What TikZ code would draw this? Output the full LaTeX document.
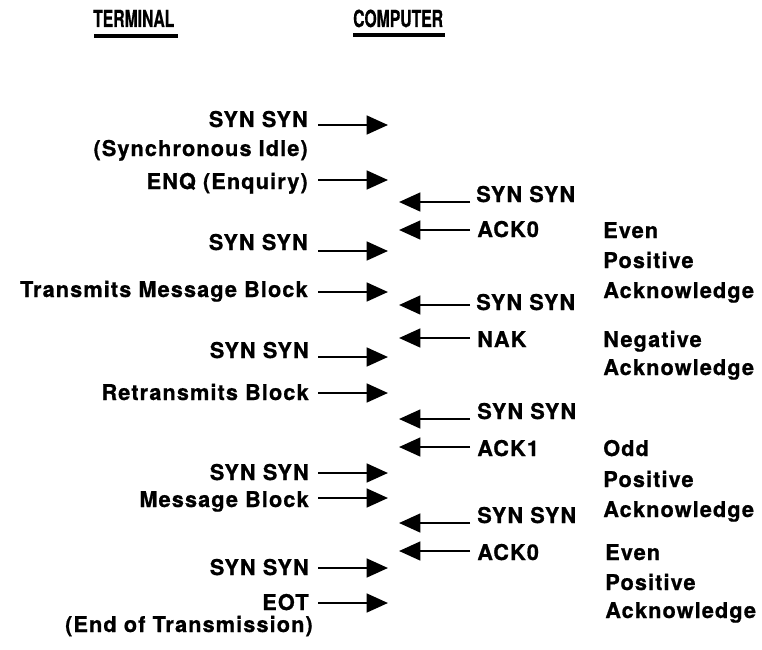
\documentclass[tikz,border=0pt]{standalone}
\usepackage{fontspec}
\usetikzlibrary{arrows.meta}
\newfontfamily\lblfont[LetterSpace=5,FakeBold=0.8]{TeX Gyre Heros}
\newfontfamily\headfont[FakeBold=0.8]{TeX Gyre Heros}
\begin{document}
\begin{tikzpicture}[x=0.75pt,y=-0.75pt,
  lbl/.style={inner sep=0pt, font=\lblfont\bfseries\fontsize{16.3}{22.5}\selectfont},
  lft/.style={lbl,anchor=base east},
  rgt/.style={lbl,anchor=base west},
  head/.style={inner sep=0pt,anchor=base west,xscale=0.67,
    font=\headfont\bfseries\fontsize{17.6}{20}\selectfont},
  msg/.style={line width=1.9pt,-{Triangle[length=16pt,width=14pt]}},
  rule/.style={line width=2.6pt}]
\useasboundingbox (0,0) rectangle (762,649);

% column headings
\node[head] (th) at (93,27) {TERMINAL};
\node[head] (ch) at (353,27) {COMPUTER};
\draw[rule] (94,36) coordinate (thl) -- (178,36) coordinate (thr);
\draw[rule] (353,35) coordinate (chl) -- (445,35) coordinate (chr);

% terminal side
\node[lft] (t1)  at (308,127) {SYN SYN};
\node[lft] (t1b) at (308,156) {(Synchronous Idle)};
\node[lft] (t2)  at (308,189) {ENQ (Enquiry)};
\node[lft] (t3)  at (308,250) {SYN SYN};
\node[lft] (t4)  at (308,297) {Transmits Message Block};
\node[lft] (t5)  at (309,358) {SYN SYN};
\node[lft] (t6)  at (309,400) {Retransmits Block};
\node[lft] (t7)  at (309,480) {SYN SYN};
\node[lft] (t8)  at (309,507) {Message Block};
\node[lft] (t9)  at (309,575) {SYN SYN};
\node[lft] (t10) at (309,610) {EOT};
\node[lft] (t10b) at (313,632) {(End of Transmission)};

% terminal to computer
\coordinate (a1s) at (318,125);   \coordinate (a1e) at (388,125);
\coordinate (a2s) at (318,180);   \coordinate (a2e) at (388,180);
\coordinate (a3s) at (318,251);   \coordinate (a3e) at (388,251);
\coordinate (a4s) at (318,292);   \coordinate (a4e) at (388,292);
\coordinate (a5s) at (318,357);   \coordinate (a5e) at (388,357);
\coordinate (a6s) at (318,393);   \coordinate (a6e) at (388,393);
\coordinate (a7s) at (318,473);   \coordinate (a7e) at (388,473);
\coordinate (a8s) at (318,498);   \coordinate (a8e) at (388,498);
\coordinate (a9s) at (318,568);   \coordinate (a9e) at (388,568);
\coordinate (a10s) at (318,603);  \coordinate (a10e) at (388,603);
\foreach \i in {1,...,10} \draw[msg] (a\i s) -- (a\i e);

% computer side
\node[rgt] (c1) at (476,202) {SYN SYN};
\node[rgt] (c2) at (477,237) {ACK0};
\node[rgt] (c3) at (476,310) {SYN SYN};
\node[rgt] (c4) at (477,347) {NAK};
\node[rgt] (c5) at (477,419) {SYN SYN};
\node[rgt] (c6) at (477,456) {ACK1};
\node[rgt] (c7) at (477,523) {SYN SYN};
\node[rgt] (c8) at (477,560) {ACK0};

% computer to terminal
\coordinate (b1s) at (470,202);  \coordinate (b1e) at (399,202);
\coordinate (b2s) at (470,230);  \coordinate (b2e) at (399,230);
\coordinate (b3s) at (470,305);  \coordinate (b3e) at (399,305);
\coordinate (b4s) at (470,338);  \coordinate (b4e) at (399,338);
\coordinate (b5s) at (470,419);  \coordinate (b5e) at (399,419);
\coordinate (b6s) at (470,447);  \coordinate (b6e) at (399,447);
\coordinate (b7s) at (470,523);  \coordinate (b7e) at (399,523);
\coordinate (b8s) at (470,551);  \coordinate (b8e) at (399,551);
\foreach \i in {1,...,8} \draw[msg] (b\i s) -- (b\i e);

% meaning of the replies
\node[rgt] (d1a) at (603,238) {Even};
\node[rgt] (d1b) at (603,268) {Positive};
\node[rgt] (d1c) at (603,298) {Acknowledge};
\node[rgt] (d2a) at (603,347) {Negative};
\node[rgt] (d2b) at (603,375) {Acknowledge};
\node[rgt] (d3a) at (603,456) {Odd};
\node[rgt] (d3b) at (603,487) {Positive};
\node[rgt] (d3c) at (603,517) {Acknowledge};
\node[rgt] (d4a) at (605,560) {Even};
\node[rgt] (d4b) at (605,590) {Positive};
\node[rgt] (d4c) at (605,618) {Acknowledge};
\end{tikzpicture}
\end{document}
